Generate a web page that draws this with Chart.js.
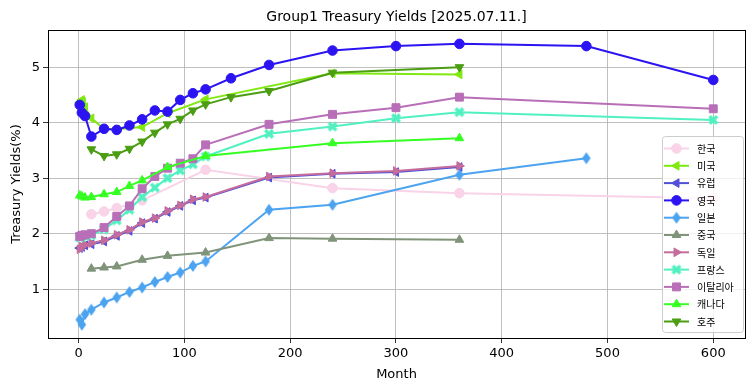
<!DOCTYPE html>
<html>
<head>
<meta charset="utf-8">
<script src="https://cdn.jsdelivr.net/npm/chart.js@4.4.1/dist/chart.umd.min.js"></script>
<style>
  html, body { margin: 0; padding: 0; background: #fff; }
  canvas { display: block; }
</style>
</head>
<body>
<canvas id="yield-chart" width="755" height="391"></canvas>
<script>
// maturities in months and yields (%) per country
const kr_months = [12, 24, 36, 60, 120, 240, 360, 600];
const kr_yields = [2.35, 2.40, 2.46, 2.60, 3.15, 2.82, 2.73, 2.64];

const us_months = [1, 2, 3, 4, 6, 12, 24, 36, 60, 84, 120, 240, 360];
const us_yields = [4.36, 4.38, 4.41, 4.37, 4.28, 4.08, 3.89, 3.88, 3.92, 4.17, 4.42, 4.89, 4.87];

const eu_months = [1, 3, 6, 12, 24, 36, 48, 60, 72, 84, 96, 108, 120, 180, 240, 300, 360];
const eu_yields = [1.74, 1.76, 1.79, 1.81, 1.86, 1.96, 2.05, 2.19, 2.27, 2.39, 2.50, 2.60, 2.65, 3.01, 3.08, 3.11, 3.20];

const uk_months = [1, 3, 6, 12, 24, 36, 48, 60, 72, 84, 96, 108, 120, 144, 180, 240, 300, 360, 480, 600];
const uk_yields = [4.32, 4.18, 4.12, 3.75, 3.89, 3.87, 3.95, 4.06, 4.22, 4.20, 4.41, 4.53, 4.60, 4.80, 5.04, 5.30, 5.38, 5.42, 5.38, 4.77];

const jp_months = [1, 3, 6, 12, 24, 36, 48, 60, 72, 84, 96, 108, 120, 180, 240, 360, 480];
const jp_yields = [0.45, 0.36, 0.55, 0.63, 0.76, 0.85, 0.95, 1.03, 1.13, 1.22, 1.30, 1.42, 1.50, 2.43, 2.52, 3.06, 3.36];

const cn_months = [12, 24, 36, 60, 84, 120, 180, 240, 360];
const cn_yields = [1.37, 1.39, 1.41, 1.53, 1.60, 1.66, 1.92, 1.91, 1.89];

const de_months = [1, 3, 6, 12, 24, 36, 48, 60, 72, 84, 96, 108, 120, 180, 240, 300, 360];
const de_yields = [1.72, 1.77, 1.80, 1.83, 1.88, 1.98, 2.07, 2.21, 2.28, 2.41, 2.51, 2.62, 2.66, 3.03, 3.09, 3.13, 3.22];

const fr_months = [1, 3, 6, 12, 24, 36, 48, 60, 72, 84, 96, 108, 120, 180, 240, 300, 360, 600];
const fr_yields = [1.93, 1.95, 1.96, 1.97, 2.08, 2.24, 2.43, 2.66, 2.83, 3.00, 3.14, 3.25, 3.39, 3.80, 3.93, 4.08, 4.19, 4.05];

const it_months = [1, 3, 6, 12, 24, 36, 48, 60, 72, 84, 96, 108, 120, 180, 240, 300, 360, 600];
const it_yields = [1.95, 1.97, 1.98, 2.00, 2.11, 2.31, 2.50, 2.81, 3.03, 3.18, 3.27, 3.35, 3.60, 3.97, 4.15, 4.27, 4.46, 4.25];

const ca_months = [1, 3, 6, 12, 24, 36, 48, 60, 84, 120, 240, 360];
const ca_yields = [2.69, 2.67, 2.65, 2.66, 2.71, 2.75, 2.86, 2.96, 3.20, 3.40, 3.63, 3.72];

const au_months = [12, 24, 36, 48, 60, 72, 84, 96, 108, 120, 144, 180, 240, 360];
const au_yields = [3.52, 3.40, 3.43, 3.53, 3.66, 3.82, 3.97, 4.07, 4.22, 4.33, 4.46, 4.57, 4.90, 5.00];

const x_ticks = [0, 100, 200, 300, 400, 500, 600];
const y_ticks = [1, 2, 3, 4, 5];

const FONT = "'DejaVu Sans', sans-serif";

// thin diamond / filled X markers like matplotlib 'd' and 'X'
function make_marker(kind, color) {
    const c = document.createElement("canvas");
    c.width = 14;
    c.height = 14;
    const ctx = c.getContext("2d");
    ctx.fillStyle = color;
    ctx.beginPath();
    let pts;
    if (kind === "diamond") {
        pts = [[7, 1], [11.3, 7], [7, 13], [2.7, 7]];
    } else {
        pts = [[2, 4.5], [4.5, 2], [7, 4.5], [9.5, 2], [12, 4.5], [9.5, 7], [12, 9.5], [9.5, 12], [7, 9.5], [4.5, 12], [2, 9.5], [4.5, 7]];
    }
    pts.forEach((p, i) => i ? ctx.lineTo(p[0], p[1]) : ctx.moveTo(p[0], p[1]));
    ctx.closePath();
    ctx.fill();
    return c;
}

function series(label, months, yields, color, style, radius, rotation) {
    return {
        label: label,
        data: months.map((m, i) => ({x: m, y: yields[i]})),
        borderColor: color,
        backgroundColor: color,
        borderWidth: 2,
        pointStyle: style,
        pointRadius: radius,
        pointRotation: rotation || 0,
        pointBorderWidth: 1,
        pointBorderColor: color,
        pointBackgroundColor: color,
        tension: 0,
        clip: false
    };
}

const datasets = [
    series("한국", kr_months, kr_yields, "#f9d3e8", "circle", 4.8),
    series("미국", us_months, us_yields, "#80e812", "triangle", 5, -90),
    series("유럽", eu_months, eu_yields, "#5050d8", "triangle", 5, -90),
    series("영국", uk_months, uk_yields, "#2c14f2", "circle", 4.8),
    series("일본", jp_months, jp_yields, "#4ca3f0", make_marker("diamond", "#4ca3f0"), 5),
    series("중국", cn_months, cn_yields, "#7f9479", "triangle", 5),
    series("독일", de_months, de_yields, "#c46c9c", "triangle", 5, 90),
    series("프랑스", fr_months, fr_yields, "#50f0c0", make_marker("x", "#50f0c0"), 5),
    series("이탈리아", it_months, it_yields, "#b86fb8", "rect", 5.6),
    series("캐나다", ca_months, ca_yields, "#35ff22", "triangle", 5),
    series("호주", au_months, au_yields, "#4b9e12", "triangle", 5, 180)
];
// matplotlib draws later series on top
datasets.forEach((d, i) => { d.order = datasets.length - i; });

const frame_plugin = {
    id: "frame",
    afterDraw(chart) {
        const {ctx, chartArea} = chart;
        ctx.save();
        ctx.strokeStyle = "#000";
        ctx.lineWidth = 1;
        ctx.strokeRect(chartArea.left + 0.5, chartArea.top + 0.5,
            chartArea.right - chartArea.left, chartArea.bottom - chartArea.top);
        ctx.fillStyle = "#000";
        ctx.font = "14px " + FONT;
        ctx.textAlign = "center";
        ctx.textBaseline = "middle";
        ctx.fillText("Group1 Treasury Yields [2025.07.11.]", (chartArea.left + chartArea.right) / 2, 17);

        // legend box inside the plot, lower right
        const bx = 662, by = 136, bw = 81, bh = 196;
        ctx.fillStyle = "rgba(255,255,255,0.8)";
        ctx.strokeStyle = "#cccccc";
        ctx.beginPath();
        ctx.roundRect(bx + 0.5, by + 0.5, bw, bh, 3);
        ctx.fill();
        ctx.stroke();
        chart.data.datasets.forEach((d, i) => {
            const y = by + 12.5 + i * 17.3;
            ctx.strokeStyle = d.borderColor;
            ctx.lineWidth = 2;
            ctx.beginPath();
            ctx.moveTo(664, y);
            ctx.lineTo(689, y);
            ctx.stroke();
            ctx.fillStyle = d.borderColor;
            ctx.lineWidth = 1;
            Chart.helpers.drawPoint(ctx, {
                pointStyle: d.pointStyle,
                radius: d.pointRadius,
                rotation: d.pointRotation,
                borderWidth: 1
            }, 676.5, y);
            ctx.fillStyle = "#000";
            ctx.font = "10px 'Noto Sans CJK KR', sans-serif";
            ctx.textAlign = "left";
            ctx.fillText(d.label, 697, y + 0.5);
        });
        ctx.restore();
    }
};

new Chart(document.getElementById("yield-chart"), {
    type: "line",
    data: {datasets: datasets},
    options: {
        responsive: false,
        animation: false,
        devicePixelRatio: 1,
        layout: {padding: {top: 30, right: 10, left: 0, bottom: 0}},
        plugins: {
            legend: {display: false},
            tooltip: {enabled: false}
        },
        scales: {
            x: {
                type: "linear",
                min: -29,
                max: 630,
                afterFit: (s) => { s.height = 53; },
                afterBuildTicks: (s) => { s.ticks = x_ticks.map((v) => ({value: v})); },
                grid: {color: "#b0b0b0", lineWidth: 0.8, tickColor: "#000", tickLength: 5},
                border: {display: false},
                ticks: {color: "#000", font: {family: FONT, size: 13}, padding: 3, maxRotation: 0},
                title: {display: true, text: "Month", color: "#000", font: {family: FONT, size: 13}, padding: {top: 0, bottom: 9}}
            },
            y: {
                min: 0.12,
                max: 5.67,
                afterFit: (s) => { s.width = 48; },
                afterBuildTicks: (s) => { s.ticks = y_ticks.map((v) => ({value: v})); },
                grid: {color: "#b0b0b0", lineWidth: 0.8, tickColor: "#000", tickLength: 5},
                border: {display: false},
                ticks: {color: "#000", font: {family: FONT, size: 13}, padding: 3},
                title: {display: true, text: "Treasury Yields(%)", color: "#000", font: {family: FONT, size: 13}, padding: {top: 9, bottom: 0}}
            }
        }
    },
    plugins: [frame_plugin]
});
</script>
</body>
</html>
